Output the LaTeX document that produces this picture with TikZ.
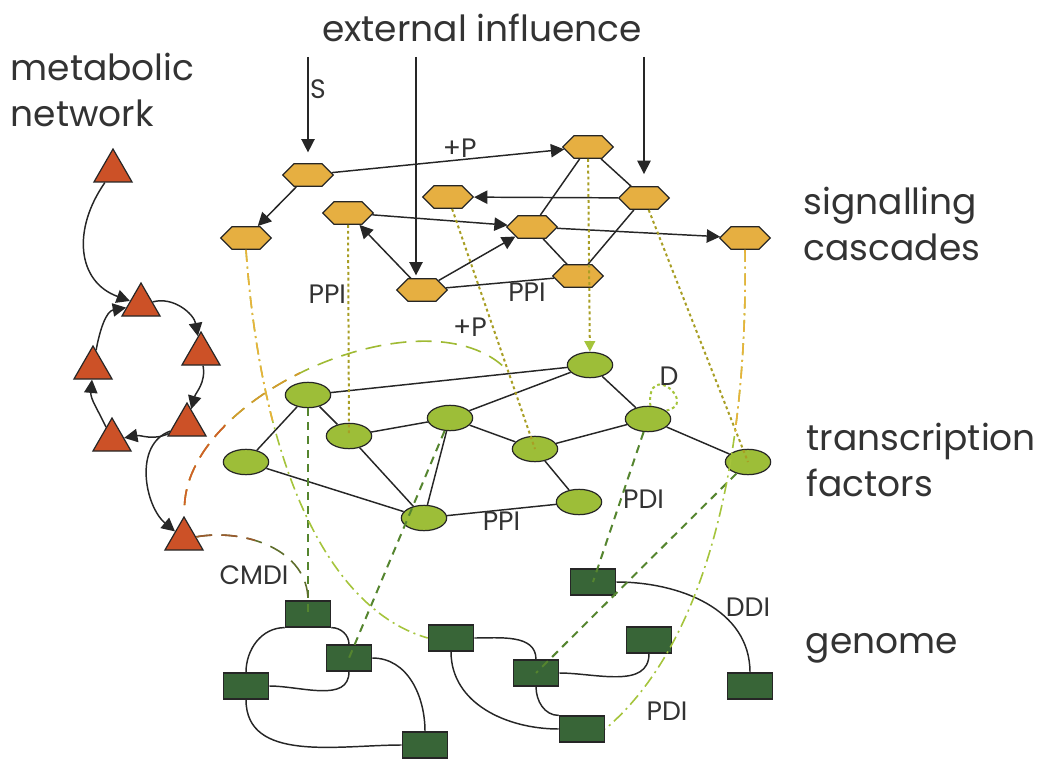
\documentclass[tikz,border=0pt]{standalone}
\usepackage{fontspec}
\setmainfont{Poppins}
\usetikzlibrary{shapes.geometric,shapes.symbols,arrows.meta}

\definecolor{edge}{HTML}{262626}
\definecolor{txt}{HTML}{333333}
\definecolor{sigfill}{HTML}{E6AF41}
\definecolor{tffill}{HTML}{9DBE38}
\definecolor{metfill}{HTML}{CC5127}
\definecolor{genefill}{HTML}{386537}
\definecolor{olivedot}{HTML}{A89E24}
\definecolor{ochre}{HTML}{E8B23A}
\definecolor{lgreen}{HTML}{A5C43C}
\definecolor{dgreen}{HTML}{55852F}
\definecolor{rust}{HTML}{CF5F2B}
\definecolor{amber}{HTML}{D39A2E}
\definecolor{brownish}{HTML}{9A5A2E}
\definecolor{mossy}{HTML}{5F6E2C}

\begin{document}
\begin{tikzpicture}[x=0.75pt, y=0.75pt, >={Triangle[length=10pt,width=10pt]}, line width=1.1pt,
  sig/.style={shape=signal, signal to=east and west, signal pointer angle=90, draw=edge, fill=sigfill,
    line width=0.9pt, minimum width=38pt, minimum height=17pt, inner sep=0pt},
  tf/.style={ellipse, draw=edge, fill=tffill, line width=0.9pt, minimum width=34pt, minimum height=19pt, inner sep=0pt},
  gene/.style={rectangle, draw=edge, fill=genefill, line width=0.9pt, minimum width=34pt, minimum height=19.5pt, inner sep=0pt},
  met/.style={regular polygon, regular polygon sides=3, draw=edge, fill=metfill, line width=0.9pt, minimum size=33pt, inner sep=0pt},
  lab/.style={font=\fontsize{20}{22}\selectfont, text=txt, inner sep=1pt},
  ttl/.style={font=\fontsize{27}{34}\selectfont, text=txt, align=left, inner sep=0pt},
  dots/.style={draw=olivedot, line width=1.5pt, dash pattern=on 2.2pt off 2.2pt},
  dashes/.style={draw=dgreen, line width=1.5pt, dash pattern=on 6pt off 4.5pt},
  dashdot/.style={line width=1.2pt, dash pattern=on 9pt off 3.5pt on 1.5pt off 3.5pt},
  longdash/.style={line width=1.2pt, dash pattern=on 12pt off 7pt}]
  \useasboundingbox (0,0) rectangle (1048,765);

  \node[ttl, anchor=west] (tmet) at (10,675) {metabolic\\network};
  \node[ttl] (text) at (482,737) {external influence};
  \node[ttl, anchor=west] (tsig) at (803,541) {signalling\\cascades};
  \node[ttl, anchor=west] (ttf) at (806,305) {transcription\\factors};
  \node[ttl, anchor=west] (tgen) at (805,117) {genome};

  % signalling cascades
  \node[sig] (hA) at (308,590) {};
  \node[sig] (hB) at (246,527) {};
  \node[sig] (hC) at (588,618) {};
  \node[sig] (hD) at (448,568) {};
  \node[sig] (hE) at (644,567) {};
  \node[sig] (hF) at (348,552) {};
  \node[sig] (hG) at (532,538) {};
  \node[sig] (hH) at (745,527) {};
  \node[sig] (hI) at (422,475) {};
  \node[sig] (hJ) at (578,489) {};

  % transcription factors
  \node[tf] (eA) at (590,400) {};
  \node[tf] (eB) at (308,370) {};
  \node[tf] (eC) at (349,329) {};
  \node[tf] (eD) at (450,347) {};
  \node[tf] (eE) at (535,316) {};
  \node[tf] (eF) at (648,346) {};
  \node[tf] (eG) at (246,303) {};
  \node[tf] (eH) at (748,303) {};
  \node[tf] (eI) at (424,247) {};
  \node[tf] (eJ) at (579,263) {};

  % metabolites
  \node[met] (t0) at (113,594) {};
  \node[met] (t1) at (141,460) {};
  \node[met] (t2) at (201,411) {};
  \node[met] (t3) at (93,397) {};
  \node[met] (t4) at (187,340) {};
  \node[met] (t5) at (112,325) {};
  \node[met] (t6) at (184,226) {};

  % genes
  \node[gene] (r1) at (308,151) {};
  \node[gene] (r2) at (349,107) {};
  \node[gene] (r3) at (246,79) {};
  \node[gene] (r4) at (425,20) {};
  \node[gene] (r5) at (451,127) {};
  \node[gene] (r6) at (536,92) {};
  \node[gene] (r7) at (593,183) {};
  \node[gene] (r8) at (649,125) {};
  \node[gene] (r9) at (582,36) {};
  \node[gene] (r10) at (750,79) {};

  \coordinate (s1) at (308,708);
  \coordinate (s2) at (416,708);
  \coordinate (s3) at (644,708);
  \coordinate (pend) at (507,395);

  \draw[->, draw=edge, shorten >=8pt] (s1) -- node[lab, pos=0.3, right] (lS) {S} (s1 |- hA.north);
  \draw[->, draw=edge, shorten >=2pt] (s2) -- (s2 |- hI.north);
  \draw[->, draw=edge, shorten >=9pt] (s3) -- (s3 |- hE.north);

  \draw[->, draw=edge] (hA) -- node[lab, pos=0.55, above] (lP1) {+P} (hC);
  \draw[->, draw=edge] (hA) -- (hB);
  \draw[->, draw=edge] (hE) -- (hD);
  \draw[->, draw=edge] (hF) -- (hG);
  \draw[->, draw=edge] (hI) -- (hF);
  \draw[->, draw=edge] (hI) -- (hG);
  \draw[->, draw=edge] (hG) -- (hH);
  \draw[draw=edge] (hI) -- node[lab, pos=0.75, below] (lPPI2) {PPI} (hJ);
  \draw[draw=edge] (hC) -- (hG);
  \draw[draw=edge] (hC) -- (hE);
  \draw[draw=edge] (hE) -- (hJ);
  \draw[draw=edge] (hG) -- (hJ);

  \draw[draw=edge] (eB) -- (eA);
  \draw[draw=edge] (eA) -- (eD);
  \draw[draw=edge] (eA) -- (eF);
  \draw[draw=edge] (eB) -- (eC);
  \draw[draw=edge] (eB) -- (eG);
  \draw[draw=edge] (eC) -- (eD);
  \draw[draw=edge] (eC) -- (eI);
  \draw[draw=edge] (eD) -- (eI);
  \draw[draw=edge] (eD) -- (eE);
  \draw[draw=edge] (eE) -- (eF);
  \draw[draw=edge] (eE) -- (eJ);
  \draw[draw=edge] (eF) -- (eH);
  \draw[draw=edge] (eG) -- (eI);
  \draw[draw=edge] (eI) -- node[lab, below] (lPPI3) {PPI} (eJ);

  \draw[->, draw=edge] (t0) to[out=235, in=160, looseness=1.2] (t1);
  \draw[->, draw=edge] (t1) to[out=15, in=100] (t2);
  \draw[->, draw=edge] (t2) to[out=-80, in=75] (t4);
  \draw[->, draw=edge] (t4) to[out=205, in=10] (t5);
  \draw[->, draw=edge] (t5) to[out=115, in=-95] (t3);
  \draw[->, draw=edge] (t3) to[out=80, in=190] (t1);
  \draw[->, draw=edge] (t4) to[out=200, in=140] (t6);

  \draw[draw=edge] (r1.south west) to[out=180, in=90] (r3.north);
  \draw[draw=edge] (r1.south east) to[out=0, in=90] (r2.north);
  \draw[draw=edge] (r2.south) to[out=-90, in=0] (r3.east);
  \draw[draw=edge] (r2.east) to[out=0, in=90] (r4.north);
  \draw[draw=edge] (r3.south) to[out=-90, in=180] (r4.west);
  \draw[draw=edge] (r5.east) to[out=0, in=90] (r6.north);
  \draw[draw=edge] (r5.south) to[out=-90, in=180] (r9.west);
  \draw[draw=edge] (r6.south) to[out=-90, in=180] (r9.north west);
  \draw[draw=edge] (r6.east) to[out=0, in=-90] (r8.south);
  \draw[draw=edge] (r7.east) to[out=0, in=90] (r10.north);

  % interactions between the layers
  \draw[dots] (hF) -- node[lab, pos=0.33, left] (lPPI1) {PPI} (eC.center);
  \draw[dots] (hD) -- (eE.center);
  \draw[dots] (hE) -- (eH.center);
  \draw[dots, -{Triangle[length=8pt,width=8pt,color=lgreen]}] (hC) -- (eA);
  \draw[dots, draw=lgreen] (eF.80) .. controls +(95:48) and +(10:34) .. node[lab, above] (lD) {D} (eF.25);

  \draw[dashes] (eB) -- (r1.center);
  \draw[dashes] (eD) -- (r2.center);
  \draw[dashes] (eF) -- node[lab, pos=0.45, right] (lPDI1) {PDI} (r7.center);
  \draw[dashes] (eH) -- (r6.center);

  \draw[dashdot, draw=lgreen] (hB.south) .. controls (262,295) and (330,155) .. (r5.west);
  \begin{scope}
    \clip (0,345) rectangle (1048,765);
    \draw[dashdot, draw=ochre] (hB.south) .. controls (262,295) and (330,155) .. (r5.west);
  \end{scope}
  \draw[dashdot, draw=lgreen] (hH.south) .. controls (748,315) and (710,125) .. (r9.east);
  \begin{scope}
    \clip (0,330) rectangle (1048,765);
    \draw[dashdot, draw=ochre] (hH.south) .. controls (748,315) and (710,125) .. (r9.east);
  \end{scope}

  \draw[longdash, draw=lgreen!85!olive, shorten <=8pt] (t6.north) .. controls (190,375) and (430,475) .. (pend);
  \begin{scope}
    \clip (0,0) rectangle (300,765);
    \draw[longdash, draw=amber, shorten <=8pt] (t6.north) .. controls (190,375) and (430,475) .. (pend);
  \end{scope}
  \begin{scope}
    \clip (0,0) rectangle (225,765);
    \draw[longdash, draw=rust, shorten <=8pt] (t6.north) .. controls (190,375) and (430,475) .. (pend);
  \end{scope}
  \draw[longdash, draw=mossy] (t6) to[out=10, in=90] (r1.north);
  \begin{scope}
    \clip (0,0) rectangle (255,765);
    \draw[longdash, draw=brownish] (t6) to[out=10, in=90] (r1.north);
  \end{scope}

  \node[lab] (lP2) at (470,438) {+P};
  \node[lab] (lCMDI) at (254,190) {CMDI};
  \node[lab] (lDDI) at (748,158) {DDI};
  \node[lab] (lPDI2) at (667,54) {PDI};
\end{tikzpicture}
\end{document}
